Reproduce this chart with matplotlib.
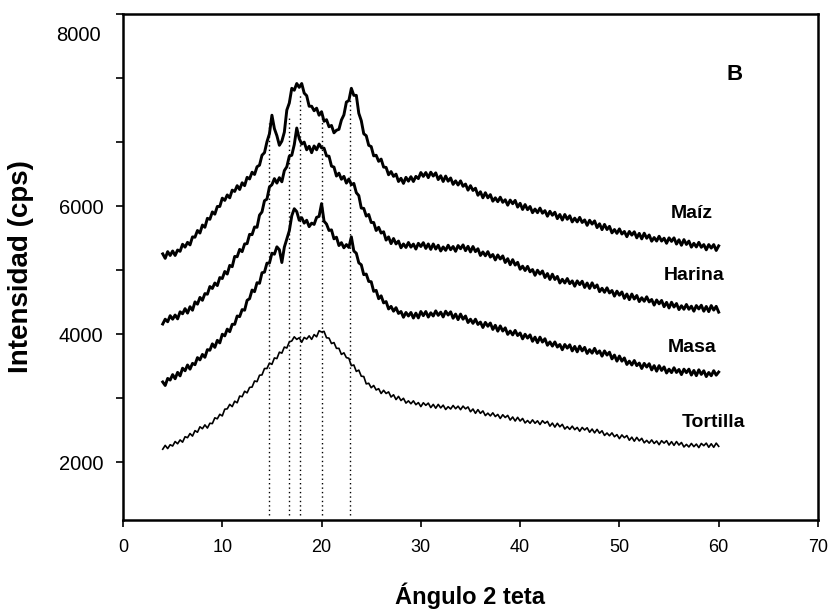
import numpy as np
import matplotlib
matplotlib.use("Agg")
import matplotlib.pyplot as plt
from matplotlib.transforms import blended_transform_factory

plt.rcParams['font.family'] = ['Liberation Sans', 'DejaVu Sans']

# 2-theta angle (degrees), sampled every 0.25 deg from 4 to 60
angle = [4.0 + 0.25 * i for i in range(225)]

maiz = [5255, 5185, 5290, 5230, 5300, 5230, 5315, 5295, 5405, 5360,
        5435, 5395, 5520, 5515, 5620, 5580, 5705, 5670, 5810, 5795,
        5910, 5875, 5995, 5995, 6125, 6090, 6175, 6130, 6250, 6230,
        6320, 6260, 6365, 6320, 6450, 6425, 6530, 6495, 6615, 6640,
        6795, 6835, 7005, 7130, 7420, 7210, 7100, 6950, 7015, 7155,
        7500, 7610, 7840, 7810, 7915, 7855, 7915, 7765, 7725, 7560,
        7560, 7490, 7530, 7420, 7475, 7325, 7350, 7240, 7260, 7145,
        7185, 7200, 7345, 7425, 7625, 7650, 7840, 7730, 7730, 7450,
        7335, 7130, 7100, 6950, 6930, 6785, 6795, 6700, 6735, 6610,
        6605, 6490, 6540, 6465, 6500, 6385, 6435, 6355, 6450, 6390,
        6460, 6385, 6465, 6430, 6525, 6465, 6525, 6445, 6530, 6470,
        6520, 6415, 6475, 6385, 6470, 6390, 6440, 6340, 6395, 6330,
        6395, 6310, 6345, 6250, 6320, 6245, 6280, 6170, 6225, 6130,
        6210, 6130, 6180, 6078, 6130, 6070, 6140, 6060, 6100, 6015,
        6095, 6038, 6090, 5985, 6045, 5948, 6025, 5945, 5995, 5898,
        5955, 5898, 5970, 5890, 5930, 5843, 5920, 5858, 5905, 5805,
        5870, 5783, 5870, 5795, 5850, 5754, 5813, 5754, 5825, 5745,
        5785, 5700, 5780, 5720, 5770, 5665, 5725, 5633, 5715, 5635,
        5685, 5583, 5635, 5575, 5645, 5565, 5605, 5523, 5605, 5548,
        5600, 5505, 5575, 5489, 5578, 5499, 5550, 5453, 5510, 5455,
        5530, 5455, 5500, 5420, 5505, 5450, 5505, 5408, 5475, 5389,
        5478, 5402, 5455, 5360, 5420, 5363, 5435, 5358, 5400, 5318,
        5400, 5345, 5400, 5308, 5380]

harina = [4160, 4235, 4195, 4290, 4235, 4300, 4240, 4350, 4320, 4400,
          4330, 4430, 4375, 4505, 4470, 4575, 4530, 4635, 4625, 4745,
          4715, 4800, 4760, 4885, 4870, 4980, 4940, 5075, 5055, 5215,
          5210, 5325, 5290, 5410, 5415, 5560, 5555, 5675, 5670, 5860,
          5910, 6085, 6110, 6300, 6335, 6430, 6360, 6445, 6380, 6555,
          6615, 6780, 6795, 6960, 7220, 7055, 6970, 7000, 6880, 6935,
          6835, 6940, 6880, 6970, 6910, 6905, 6785, 6780, 6625, 6610,
          6470, 6515, 6420, 6465, 6360, 6425, 6335, 6355, 6210, 6165,
          5970, 5965, 5845, 5870, 5745, 5745, 5620, 5670, 5580, 5600,
          5470, 5520, 5415, 5495, 5410, 5455, 5350, 5410, 5355, 5433,
          5360, 5408, 5330, 5420, 5370, 5430, 5340, 5410, 5325, 5410,
          5330, 5390, 5300, 5363, 5310, 5390, 5320, 5370, 5295, 5385,
          5335, 5395, 5305, 5373, 5285, 5370, 5290, 5335, 5230, 5285,
          5225, 5290, 5205, 5245, 5160, 5238, 5175, 5223, 5120, 5180,
          5085, 5165, 5080, 5123, 5015, 5063, 4995, 5060, 4975, 5010,
          4920, 5000, 4940, 4988, 4885, 4948, 4855, 4938, 4855, 4903,
          4800, 4858, 4800, 4870, 4790, 4833, 4750, 4833, 4775, 4828,
          4730, 4800, 4715, 4803, 4725, 4770, 4665, 4718, 4655, 4725,
          4645, 4683, 4595, 4673, 4610, 4660, 4560, 4628, 4540, 4628,
          4550, 4605, 4510, 4570, 4515, 4585, 4505, 4543, 4455, 4535,
          4475, 4528, 4430, 4498, 4410, 4500, 4425, 4480, 4385, 4445,
          4390, 4465, 4390, 4438, 4360, 4448, 4395, 4453, 4360, 4434,
          4353, 4448, 4377, 4436, 4345]

masa = [3255, 3200, 3310, 3285, 3370, 3305, 3405, 3350, 3470, 3430,
        3520, 3455, 3545, 3525, 3635, 3600, 3685, 3640, 3760, 3750,
        3850, 3795, 3905, 3865, 4000, 3975, 4080, 4040, 4155, 4155,
        4285, 4275, 4385, 4375, 4530, 4555, 4690, 4665, 4805, 4795,
        4960, 4970, 5110, 5110, 5265, 5250, 5365, 5320, 5120, 5360,
        5490, 5615, 5850, 5960, 5915, 5780, 5820, 5735, 5780, 5680,
        5735, 5715, 5825, 5840, 6040, 5765, 5720, 5620, 5630, 5490,
        5515, 5385, 5430, 5350, 5400, 5355, 5520, 5300, 5265, 5115,
        5085, 4930, 4940, 4825, 4820, 4670, 4685, 4555, 4600, 4490,
        4510, 4395, 4435, 4360, 4415, 4325, 4355, 4265, 4340, 4285,
        4340, 4253, 4330, 4255, 4355, 4290, 4355, 4268, 4335, 4285,
        4365, 4295, 4345, 4270, 4360, 4300, 4350, 4250, 4315, 4228,
        4315, 4235, 4285, 4183, 4235, 4170, 4235, 4153, 4190, 4105,
        4185, 4125, 4175, 4075, 4140, 4048, 4130, 4050, 4100, 3998,
        4050, 3990, 4060, 3980, 4020, 3928, 4000, 3940, 3990, 3890,
        3955, 3868, 3955, 3878, 3930, 3828, 3880, 3815, 3880, 3800,
        3840, 3758, 3840, 3783, 3835, 3740, 3810, 3725, 3815, 3740,
        3795, 3700, 3760, 3705, 3780, 3700, 3740, 3658, 3740, 3675,
        3720, 3615, 3675, 3580, 3660, 3580, 3630, 3528, 3580, 3520,
        3590, 3510, 3550, 3465, 3545, 3488, 3540, 3443, 3510, 3423,
        3510, 3435, 3490, 3395, 3455, 3401, 3477, 3403, 3450, 3370,
        3455, 3400, 3455, 3363, 3435, 3353, 3445, 3373, 3430, 3339,
        3403, 3352, 3431, 3361, 3410]

tortilla = [2205, 2265, 2215, 2275, 2255, 2325, 2290, 2350, 2315, 2400,
            2385, 2450, 2410, 2495, 2470, 2555, 2525, 2585, 2535, 2610,
            2605, 2695, 2680, 2750, 2725, 2830, 2835, 2905, 2870, 2955,
            2930, 3035, 3025, 3110, 3085, 3170, 3175, 3270, 3260, 3360,
            3365, 3465, 3465, 3550, 3530, 3630, 3620, 3720, 3705, 3800,
            3785, 3880, 3895, 3960, 3920, 3945, 3875, 3950, 3925, 3975,
            3920, 3995, 3960, 4055, 4035, 4045, 3945, 3940, 3855, 3870,
            3780, 3780, 3685, 3710, 3635, 3625, 3510, 3520, 3420, 3440,
            3345, 3340, 3225, 3235, 3165, 3200, 3130, 3150, 3075, 3125,
            3075, 3100, 3020, 3055, 2980, 3030, 2965, 3000, 2925, 2960,
            2915, 2960, 2900, 2933, 2870, 2930, 2890, 2925, 2855, 2905,
            2845, 2905, 2850, 2893, 2825, 2869, 2833, 2888, 2837, 2877,
            2822, 2878, 2835, 2865, 2790, 2833, 2765, 2823, 2765, 2803,
            2730, 2768, 2725, 2773, 2715, 2748, 2685, 2743, 2700, 2733,
            2660, 2708, 2645, 2703, 2645, 2685, 2615, 2653, 2610, 2663,
            2610, 2648, 2590, 2650, 2610, 2640, 2565, 2613, 2550, 2610,
            2555, 2593, 2520, 2558, 2515, 2565, 2510, 2545, 2485, 2545,
            2505, 2540, 2470, 2520, 2460, 2515, 2455, 2493, 2420, 2458,
            2415, 2460, 2400, 2433, 2370, 2428, 2385, 2418, 2345, 2393,
            2330, 2390, 2335, 2375, 2305, 2343, 2300, 2350, 2295, 2333,
            2275, 2338, 2300, 2338, 2270, 2323, 2265, 2325, 2270, 2310,
            2240, 2280, 2240, 2295, 2245, 2285, 2230, 2295, 2260, 2300,
            2235, 2290, 2235, 2300, 2250]

series_names = ["Maíz", "Harina", "Masa", "Tortilla"]
label_x = [57.3, 57.5, 57.3, 59.5]
label_y = [5890, 4920, 3800, 2625]

# dotted reference lines (peak positions)
peak_pos = [14.67, 16.68, 17.79, 20.07, 22.83]
peak_top = [7300, 7380, 7750, 7400, 7650]
peak_bottom = 1180

xticks = [0, 10, 20, 30, 40, 50, 60, 70]
yticks = [2000, 3000, 4000, 5000, 6000, 7000, 8000, 9000]
ytick_labels = ["2000", "", "4000", "", "6000", "", "", ""]

fig = plt.figure(figsize=(8.30, 6.15), dpi=100)
ax = fig.add_axes([0.1482, 0.1545, 0.8373, 0.8227])

ax.vlines(peak_pos, peak_bottom, peak_top, colors="black",
          linestyles=(0, (1, 2.2)), linewidth=1.0, zorder=1)

for ys in (maiz, harina, masa):
    ax.plot(angle, ys, color="black", linewidth=2.1, zorder=2)
ax.plot(angle, tortilla, color="black", linewidth=1.2, zorder=2)

for name, lx, ly in zip(series_names, label_x, label_y):
    ax.text(lx, ly, name, ha="center", va="center", fontsize=14,
            fontweight="bold")

ax.text(61.6, 8050, "B", ha="center", va="center", fontsize=16,
        fontweight="bold")

ax.set_xlim(0, 70)
ax.set_ylim(1100, 9000)
ax.set_xticks(xticks)
ax.set_yticks(yticks)
ax.set_yticklabels(ytick_labels)

trans = blended_transform_factory(ax.transAxes, ax.transData)
ax.annotate("8000", xy=(0, 8672), xycoords=trans, xytext=(-16, 0),
            textcoords="offset points", ha="right", va="center",
            fontsize=14.5)

ax.tick_params(axis="both", direction="out", length=5, width=1.2)
ax.tick_params(axis="x", labelsize=13, pad=9)
ax.tick_params(axis="y", labelsize=14.5, pad=9)
for s in ax.spines.values():
    s.set_linewidth(1.8)

ax.set_xlabel("Ángulo 2 teta", fontsize=17, fontweight="bold", labelpad=19)
ax.set_ylabel("Intensidad (cps)", fontsize=20, fontweight="bold", labelpad=18)

fig.savefig("out.png", dpi=100)
